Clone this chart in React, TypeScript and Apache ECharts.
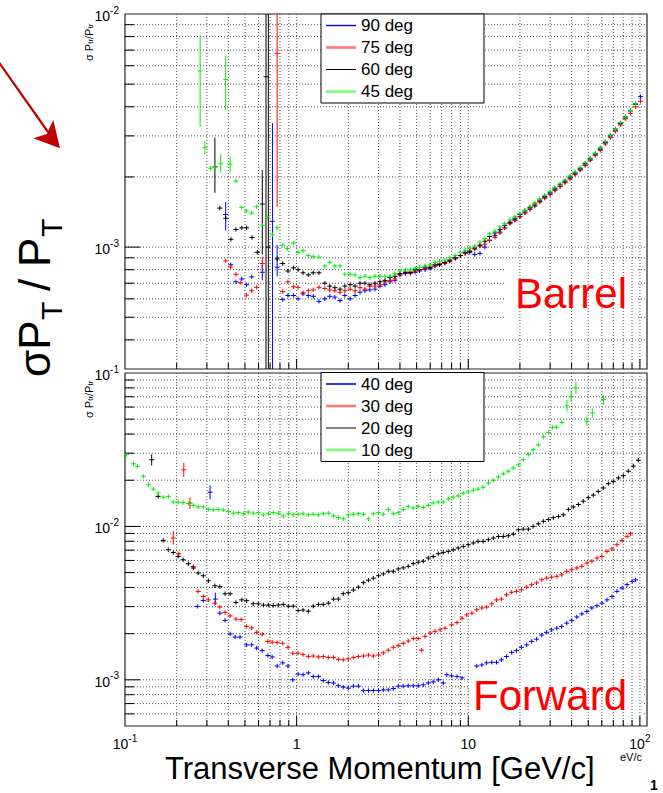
import React, { useEffect, useRef } from "react";
import * as echarts from "echarts";

const FONT = "'Liberation Sans', Arial, Helvetica, sans-serif";

// ---------- axis ranges & tick values ----------
const xRange = [0.1, 110];
const yTopRange = [3e-4, 1e-2];
const yBotRange = [5e-4, 1e-1];
const xMajorTicks = [1, 10, 100];
const xMinorTicks = [0.2, 0.3, 0.4, 0.5, 0.6, 0.7, 0.8, 0.9, 2, 3, 4, 5, 6, 7, 8, 9, 20, 30, 40, 50, 60, 70, 80, 90];
const yTopMajorTicks = [1e-3];
const yTopMinorTicks = [4e-4, 5e-4, 6e-4, 7e-4, 8e-4, 9e-4, 2e-3, 3e-3, 4e-3, 5e-3, 6e-3, 7e-3, 8e-3, 9e-3];
const yBotMajorTicks = [1e-3, 1e-2];
const yBotMinorTicks = [6e-4, 7e-4, 8e-4, 9e-4, 2e-3, 3e-3, 4e-3, 5e-3, 6e-3, 7e-3, 8e-3, 9e-3, 2e-2, 3e-2, 4e-2, 5e-2, 6e-2, 7e-2, 8e-2, 9e-2];

// ---------- series names / colours ----------
const barrelNames = ["90 deg", "75 deg", "60 deg", "45 deg"];
const forwardNames = ["40 deg", "30 deg", "20 deg", "10 deg"];
const seriesColors = ["#0000ff", "#ff0000", "#000000", "#00ee00"];
const legendColors = ["#0000ff", "#ff7878", "#000000", "#78ff78"];
const barrelLegendIcons = ["path://M0,0h30v1.4h-30z", "path://M0,0h30v2.6h-30z", "path://M0,0h30v1h-30z", "path://M0,0h30v2.6h-30z"];
const forwardLegendIcons = ["path://M0,0h30v1.6h-30z", "path://M0,0h30v2.6h-30z", "path://M0,0h30v1h-30z", "path://M0,0h30v2.6h-30z"];

// ---------- Barrel: low-pT points [pT, sigma, errLow?, errHigh?] ----------
const b90Low = [
  [0.386, 1.38e-3, 1.18e-3, 1.56e-3], [0.413, 8.4e-4], [0.443, 7.1e-4], [0.479, 7.3e-4], [0.511, 6.9e-4],
  [0.547, 7.45e-4], [0.631, 7.8e-4, 7.2e-4, 8.4e-4], [0.724, 1.29e-3, 1e-4, 3.4e-3], [0.77, 8.2e-4, 7.5e-4, 1.02e-3],
  [0.83, 5.95e-4], [0.89, 6.2e-4], [0.96, 6.2e-4], [1.02, 6.0e-4], [1.09, 6.3e-4], [1.17, 6.2e-4], [1.25, 6.15e-4],
  [1.35, 5.85e-4], [1.46, 6.0e-4], [1.56, 6.15e-4], [1.67, 6.1e-4], [1.79, 5.9e-4], [1.91, 6.2e-4], [2.05, 6.0e-4],
  [2.19, 6.2e-4], [2.34, 6.4e-4], [2.5, 6.5e-4], [2.67, 6.55e-4], [2.86, 6.6e-4], [3.06, 6.8e-4], [3.27, 6.9e-4],
  [3.5, 7.1e-4], [3.74, 7.2e-4],
];
const b75Low = [
  [0.386, 8.73e-4], [0.413, 8.22e-4], [0.443, 7.64e-4], [0.47, 7.03e-4], [0.51, 6.22e-4], [0.547, 6.5e-4],
  [0.585, 6.72e-4], [0.631, 8.51e-4, 8.0e-4, 9.1e-4], [0.77, 6.78e-3, 1.49e-3, 1.2e-2], [0.83, 6.45e-4],
  [0.89, 7.1e-4], [0.96, 6.76e-4], [1.02, 6.72e-4], [1.09, 6.37e-4], [1.17, 6.5e-4], [1.25, 6.55e-4],
  [1.35, 6.72e-4], [1.46, 6.65e-4], [1.56, 6.55e-4], [1.67, 6.5e-4], [1.79, 6.4e-4], [1.91, 6.5e-4],
  [2.05, 6.6e-4], [2.19, 6.5e-4], [2.34, 6.7e-4], [2.5, 6.6e-4], [2.67, 6.8e-4], [2.86, 6.8e-4], [3.06, 6.9e-4],
  [3.27, 7.1e-4], [3.5, 7.2e-4], [3.74, 7.3e-4],
];
const b60Low = [
  [0.334, 2.21e-3, 1.71e-3, 2.95e-3], [0.357, 1.47e-3], [0.386, 1.33e-3], [0.414, 1.08e-3], [0.443, 1.19e-3],
  [0.479, 1.21e-3], [0.511, 1.21e-3], [0.55, 1.1e-3], [0.59, 9.5e-4], [0.631, 1.53e-3, 9.3e-4, 2.14e-3],
  [0.663, 5.38e-3, 1e-4, 1], [0.684, 1.0e-3, 1e-4, 1], [0.77, 8.9e-4], [0.83, 8.5e-4], [0.89, 7.9e-4], [0.96, 8.15e-4],
  [1.02, 8.0e-4], [1.09, 7.76e-4], [1.17, 7.6e-4], [1.25, 7.76e-4], [1.35, 7.76e-4], [1.46, 7.0e-4],
  [1.56, 6.8e-4], [1.67, 6.7e-4], [1.79, 6.6e-4], [1.91, 6.8e-4], [2.05, 6.9e-4], [2.19, 6.8e-4], [2.34, 7.0e-4],
  [2.5, 7.0e-4], [2.67, 6.9e-4], [2.86, 7.0e-4], [3.06, 7.1e-4], [3.27, 7.2e-4], [3.5, 7.4e-4], [3.74, 7.5e-4],
];
const b45Low = [
  [0.274, 5.7e-3, 3.28e-3, 8.1e-3], [0.292, 2.67e-3, 2.5e-3, 2.85e-3], [0.315, 2.18e-3], [0.334, 2.21e-3],
  [0.361, 2.29e-3, 2.1e-3, 2.5e-3], [0.386, 5.24e-3, 3.87e-3, 6.6e-3], [0.41, 2.27e-3, 2.1e-3, 2.45e-3],
  [0.443, 1.92e-3], [0.479, 1.48e-3], [0.511, 1.43e-3], [0.547, 1.4e-3], [0.585, 1.49e-3], [0.631, 1.24e-3],
  [0.674, 1.35e-3], [0.724, 1.13e-3], [0.77, 1.21e-3], [0.83, 1.02e-3], [0.885, 9.86e-4], [0.96, 1.04e-3],
  [1.02, 9.48e-4], [1.09, 9.66e-4], [1.17, 9.2e-4], [1.25, 9.1e-4], [1.35, 9.06e-4], [1.46, 8.3e-4],
  [1.56, 8.6e-4], [1.67, 8.3e-4], [1.79, 8.3e-4], [1.91, 7.65e-4], [2.05, 7.65e-4], [2.19, 7.6e-4],
  [2.34, 7.4e-4], [2.5, 7.5e-4], [2.67, 7.4e-4], [2.86, 7.5e-4], [3.06, 7.5e-4], [3.27, 7.5e-4], [3.5, 7.5e-4],
  [3.74, 7.7e-4],
];

// ---------- Barrel: high-pT bins and values (units of 1e-3) ----------
const barrelHighP = [
  4.0, 4.3, 4.6, 4.9, 5.2, 5.6, 6.0, 6.4, 6.8, 7.3, 7.8, 8.4, 9.0, 9.6, 10.2, 10.9, 11.7, 12.5, 13.3, 14.3,
  15.3, 16.3, 17.5, 18.7, 20.0, 21.4, 22.9, 24.4, 26.1, 27.9, 30.0, 32.0, 34.3, 36.6, 39.2, 41.9, 44.9, 48.0,
  51.4, 55.0, 58.8, 62.9, 67.3, 72.0, 77.0, 82.3, 88.1, 94.3, 100.8,
];
const b90HighMilli = [
  0.76, 0.77, 0.78, 0.78, 0.79, 0.8, 0.81, 0.83, 0.84, 0.86, 0.88, 0.9, 0.92, 0.94, 0.95, 0.93, 0.94, 1.0, 1.07, 1.12,
  1.16, 1.21, 1.27, 1.31, 1.35, 1.41, 1.46, 1.5, 1.57, 1.63, 1.69, 1.76, 1.82, 1.9, 1.98, 2.06, 2.15, 2.25, 2.37, 2.49,
  2.62, 2.8, 2.97, 3.17, 3.38, 3.58, 3.84, 4.12, 4.42,
];
const b75HighMilli = [
  0.76, 0.78, 0.77, 0.79, 0.8, 0.81, 0.82, 0.83, 0.85, 0.85, 0.88, 0.89, 0.92, 0.94, 0.96, 0.98, 1.01, 1.03, 1.07, 1.1,
  1.15, 1.21, 1.26, 1.3, 1.35, 1.4, 1.45, 1.51, 1.56, 1.62, 1.68, 1.75, 1.82, 1.89, 1.96, 2.05, 2.14, 2.24, 2.36, 2.47,
  2.6, 2.77, 2.95, 3.14, 3.34, 3.55, 3.75, 4.0, 4.22,
];
const b60HighMilli = [
  0.77, 0.78, 0.78, 0.8, 0.8, 0.82, 0.82, 0.84, 0.84, 0.86, 0.87, 0.9, 0.92, 0.95, 0.96, 0.99, 1.02, 1.06, 1.11, 1.15,
  1.19, 1.24, 1.28, 1.33, 1.38, 1.43, 1.48, 1.53, 1.59, 1.65, 1.71, 1.78, 1.85, 1.92, 2.0, 2.08, 2.17, 2.28, 2.4, 2.52,
  2.66, 2.82, 3.02, 3.21, 3.4, 3.62, 3.85, 4.1,
];
const b45HighMilli = [
  0.79, 0.8, 0.8, 0.81, 0.82, 0.83, 0.84, 0.86, 0.87, 0.88, 0.9, 0.92, 0.95, 0.97, 0.99, 1.01, 1.05, 1.09, 1.14, 1.17,
  1.22, 1.26, 1.31, 1.35, 1.39, 1.44, 1.49, 1.55, 1.61, 1.67, 1.73, 1.8, 1.87, 1.94, 2.02, 2.1, 2.19, 2.3, 2.41, 2.53,
  2.67, 2.84, 3.02, 3.2, 3.42, 3.62, 3.86, 4.12,
];

// ---------- Forward series [pT, sigma, errLow?, errHigh?] ----------
const f40 = [
  [0.264, 3.01e-3], [0.286, 3.29e-3], [0.313, 1.67e-2, 1.5e-2, 1.85e-2], [0.336, 3.36e-3, 3.1e-3, 3.7e-3],
  [0.357, 2.72e-3], [0.383, 2.44e-3], [0.41, 1.99e-3], [0.438, 1.9e-3], [0.468, 1.9e-3], [0.511, 1.69e-3],
  [0.547, 1.69e-3], [0.585, 1.61e-3], [0.63, 1.55e-3], [0.68, 1.44e-3], [0.72, 1.41e-3], [0.77, 1.23e-3],
  [0.83, 1.29e-3], [0.89, 1.23e-3], [0.95, 1.0e-3], [1.02, 1.09e-3], [1.09, 1.08e-3], [1.17, 1.11e-3],
  [1.25, 1.05e-3], [1.34, 1.05e-3], [1.43, 9.9e-4], [1.53, 9.6e-4], [1.64, 9.53e-4], [1.75, 9.15e-4],
  [1.87, 8.96e-4], [2.0, 8.83e-4], [2.14, 9.1e-4], [2.29, 9.1e-4], [2.45, 8.51e-4], [2.62, 8.51e-4],
  [2.8, 8.51e-4], [3.0, 8.51e-4], [3.2, 8.6e-4], [3.42, 8.6e-4], [3.66, 8.77e-4], [3.91, 9.1e-4], [4.18, 9.1e-4],
  [4.47, 9.15e-4], [4.78, 9.15e-4], [5.11, 9.15e-4], [5.47, 9.28e-4], [5.85, 9.53e-4], [6.25, 9.7e-4],
  [6.69, 1.0e-3], [7.15, 9.53e-4], [7.5, 1.08e-3], [8.0, 1.06e-3], [8.6, 1.05e-3], [9.2, 1.03e-3],
  [11.2, 1.23e-3], [12.0, 1.25e-3], [12.8, 1.29e-3], [13.7, 1.3e-3], [14.6, 1.3e-3], [15.6, 1.35e-3],
  [16.7, 1.42e-3], [17.9, 1.51e-3], [19.1, 1.55e-3], [20.4, 1.63e-3], [21.9, 1.69e-3], [23.4, 1.78e-3],
  [25.0, 1.84e-3], [26.8, 1.96e-3], [28.6, 2.04e-3], [30.6, 2.12e-3], [32.8, 2.17e-3], [35.0, 2.23e-3],
  [37.5, 2.34e-3], [40.1, 2.44e-3], [42.9, 2.57e-3], [45.9, 2.69e-3], [49.1, 2.79e-3], [52.5, 2.94e-3],
  [56.2, 3.04e-3], [60.1, 3.16e-3], [64.3, 3.32e-3], [68.8, 3.49e-3], [73.5, 3.77e-3], [78.7, 3.96e-3],
  [84.2, 4.17e-3], [90.1, 4.38e-3], [94.3, 4.49e-3],
];
const f30 = [
  [0.191, 8.4e-3, 7.6e-3, 9.3e-3], [0.206, 6.64e-3], [0.22, 2.34e-2, 2.1e-2, 2.6e-2], [0.239, 1.42e-2, 1.3e-2, 1.55e-2],
  [0.25, 5.48e-3], [0.267, 3.77e-3], [0.286, 3.49e-3], [0.306, 3.32e-3], [0.334, 3.16e-3], [0.357, 2.98e-3],
  [0.383, 2.75e-3], [0.41, 2.61e-3], [0.443, 2.49e-3], [0.475, 2.47e-3], [0.511, 2.23e-3], [0.547, 2.18e-3],
  [0.585, 2.04e-3], [0.63, 1.98e-3], [0.68, 1.78e-3], [0.72, 1.76e-3], [0.77, 1.75e-3], [0.83, 1.73e-3],
  [0.89, 1.63e-3], [0.95, 1.49e-3], [1.02, 1.49e-3], [1.09, 1.46e-3], [1.17, 1.42e-3], [1.25, 1.43e-3],
  [1.34, 1.41e-3], [1.43, 1.42e-3], [1.53, 1.4e-3], [1.64, 1.4e-3], [1.75, 1.36e-3], [1.87, 1.35e-3],
  [2.0, 1.37e-3], [2.14, 1.4e-3], [2.29, 1.42e-3], [2.45, 1.43e-3], [2.62, 1.45e-3], [2.8, 1.43e-3],
  [3.0, 1.45e-3], [3.2, 1.5e-3], [3.42, 1.56e-3], [3.66, 1.63e-3], [3.91, 1.67e-3], [4.18, 1.73e-3],
  [4.47, 1.79e-3], [4.78, 1.86e-3], [5.11, 1.86e-3], [5.35, 1.56e-3], [5.6, 1.92e-3], [6.0, 2.02e-3],
  [6.4, 2.07e-3], [6.85, 2.12e-3], [7.32, 2.17e-3], [8.0, 2.28e-3], [8.6, 2.36e-3], [9.2, 2.52e-3],
  [9.8, 2.65e-3], [10.5, 2.72e-3], [11.2, 2.86e-3], [12.0, 2.94e-3], [12.8, 2.98e-3], [13.7, 3.13e-3],
  [14.6, 3.32e-3], [15.6, 3.36e-3], [16.7, 3.58e-3], [17.9, 3.72e-3], [19.1, 3.77e-3], [20.4, 3.86e-3],
  [21.9, 4.02e-3], [23.4, 4.17e-3], [25.0, 4.28e-3], [26.8, 4.49e-3], [28.6, 4.6e-3], [30.6, 4.67e-3],
  [32.8, 4.73e-3], [35.0, 4.84e-3], [37.5, 5.09e-3], [40.1, 5.22e-3], [42.9, 5.36e-3], [45.9, 5.49e-3],
  [49.1, 5.77e-3], [52.5, 5.93e-3], [56.2, 6.22e-3], [60.1, 6.37e-3], [64.3, 6.87e-3], [68.8, 7.13e-3],
  [73.5, 7.6e-3], [78.7, 8.11e-3], [84.2, 8.61e-3], [88.1, 8.96e-3],
];
const f20 = [
  [0.143, 2.72e-2, 2.5e-2, 2.95e-2], [0.156, 1.57e-2], [0.167, 8.1e-3], [0.179, 7.05e-3], [0.191, 6.76e-3],
  [0.204, 6.37e-3], [0.218, 6.06e-3], [0.234, 5.71e-3], [0.25, 5.36e-3], [0.267, 4.97e-3], [0.286, 4.77e-3],
  [0.306, 4.42e-3], [0.334, 4.1e-3], [0.357, 4.05e-3], [0.383, 3.64e-3], [0.41, 3.64e-3], [0.443, 3.19e-3],
  [0.479, 3.32e-3], [0.511, 3.28e-3], [0.559, 3.13e-3], [0.598, 3.13e-3], [0.64, 3.07e-3], [0.684, 3.07e-3],
  [0.731, 3.05e-3], [0.782, 3.07e-3], [0.836, 3.1e-3], [0.894, 3.02e-3], [0.956, 3.02e-3], [1.02, 2.83e-3],
  [1.09, 2.85e-3], [1.17, 2.8e-3], [1.25, 3.02e-3], [1.34, 3.1e-3], [1.43, 3.1e-3], [1.53, 3.16e-3],
  [1.64, 3.36e-3], [1.75, 3.36e-3], [1.87, 3.64e-3], [2.0, 3.7e-3], [2.14, 3.85e-3], [2.29, 4.02e-3],
  [2.45, 4.3e-3], [2.62, 4.46e-3], [2.8, 4.6e-3], [3.0, 4.77e-3], [3.2, 4.9e-3], [3.42, 5.1e-3], [3.66, 5.1e-3],
  [3.91, 5.28e-3], [4.18, 5.37e-3], [4.47, 5.49e-3], [4.78, 5.72e-3], [5.11, 5.84e-3], [5.47, 5.93e-3],
  [5.85, 6.22e-3], [6.25, 6.37e-3], [6.69, 6.64e-3], [7.15, 6.77e-3], [7.65, 6.87e-3], [8.18, 7.05e-3],
  [8.74, 7.23e-3], [9.35, 7.41e-3], [10.0, 7.6e-3], [10.7, 7.8e-3], [11.4, 7.99e-3], [12.2, 7.99e-3],
  [13.1, 8.2e-3], [14.0, 8.4e-3], [15.0, 8.6e-3], [16.0, 8.6e-3], [17.1, 8.7e-3], [18.3, 8.9e-3], [19.6, 9.5e-3],
  [20.9, 9.6e-3], [22.4, 9.6e-3], [23.9, 1.0e-2], [25.6, 1.04e-2], [27.4, 1.08e-2], [29.3, 1.11e-2],
  [31.3, 1.14e-2], [33.5, 1.16e-2], [35.8, 1.19e-2], [38.3, 1.29e-2], [40.9, 1.34e-2], [43.8, 1.39e-2],
  [46.8, 1.46e-2], [50.1, 1.54e-2], [53.5, 1.6e-2], [57.2, 1.69e-2], [61.2, 1.78e-2], [65.5, 1.9e-2],
  [70.0, 1.96e-2], [74.9, 2.07e-2], [80.1, 2.14e-2], [85.6, 2.29e-2], [91.6, 2.47e-2], [97.9, 2.7e-2],
];
const f10 = [
  [0.102, 2.94e-2], [0.112, 2.56e-2], [0.118, 2.46e-2], [0.128, 2.12e-2], [0.137, 1.87e-2], [0.146, 1.75e-2],
  [0.156, 1.65e-2], [0.167, 1.55e-2], [0.179, 1.57e-2], [0.191, 1.44e-2], [0.204, 1.44e-2], [0.218, 1.43e-2],
  [0.234, 1.41e-2], [0.25, 1.37e-2], [0.267, 1.34e-2], [0.286, 1.34e-2], [0.306, 1.29e-2], [0.327, 1.28e-2],
  [0.349, 1.29e-2], [0.374, 1.28e-2], [0.4, 1.25e-2], [0.428, 1.22e-2], [0.457, 1.23e-2], [0.489, 1.21e-2],
  [0.523, 1.24e-2], [0.559, 1.22e-2], [0.598, 1.23e-2], [0.64, 1.19e-2], [0.684, 1.21e-2], [0.731, 1.23e-2],
  [0.782, 1.22e-2], [0.836, 1.17e-2], [0.894, 1.21e-2], [0.956, 1.19e-2], [1.02, 1.2e-2], [1.09, 1.21e-2],
  [1.17, 1.19e-2], [1.25, 1.2e-2], [1.34, 1.19e-2], [1.43, 1.21e-2], [1.53, 1.22e-2], [1.64, 1.17e-2],
  [1.75, 1.14e-2], [1.87, 1.12e-2], [2.0, 1.19e-2], [2.14, 1.2e-2], [2.29, 1.21e-2], [2.45, 1.2e-2],
  [2.62, 1.12e-2], [2.8, 1.21e-2], [3.0, 1.23e-2], [3.2, 1.2e-2], [3.42, 1.29e-2], [3.66, 1.21e-2],
  [3.91, 1.23e-2], [4.18, 1.29e-2], [4.47, 1.35e-2], [4.78, 1.32e-2], [5.11, 1.35e-2], [5.47, 1.33e-2],
  [5.85, 1.37e-2], [6.25, 1.42e-2], [6.69, 1.44e-2], [7.15, 1.44e-2], [7.65, 1.51e-2], [8.18, 1.55e-2],
  [8.74, 1.58e-2], [9.35, 1.65e-2], [10.0, 1.68e-2], [10.7, 1.72e-2], [11.4, 1.75e-2], [12.2, 1.8e-2],
  [13.1, 1.92e-2], [14.0, 2.0e-2], [15.0, 2.1e-2], [16.0, 2.2e-2], [17.1, 2.29e-2], [18.3, 2.4e-2],
  [19.6, 2.52e-2], [20.9, 2.72e-2], [22.4, 2.94e-2], [23.9, 3.16e-2], [25.6, 3.4e-2], [27.4, 3.83e-2],
  [29.3, 4.1e-2], [30.9, 4.42e-2], [32.6, 4.44e-2], [35.1, 4.76e-2], [37.6, 6.12e-2, 5.6e-2, 6.7e-2],
  [39.8, 7.05e-2, 6.5e-2, 7.7e-2], [42.4, 8.0e-2, 7.3e-2, 8.8e-2], [49.1, 4.84e-2, 4.5e-2, 5.2e-2],
  [52.8, 5.5e-2, 5.1e-2, 5.9e-2], [61.4, 6.7e-2, 6.2e-2, 7.2e-2],
];

// ---------- helpers that build the library's option from the arrays ----------
const toRows = (arr: number[][]) => arr.map((r) => [r[0], r[1], r[2] ?? 0, r[3] ?? 0]);
const highRows = (vals: number[]) => vals.map((v, i) => [barrelHighP[i], v * 1e-3, 0, 0]);

const barrelData = [
  [...toRows(b90Low), ...highRows(b90HighMilli)],
  [...toRows(b75Low), ...highRows(b75HighMilli)],
  [...toRows(b60Low), ...highRows(b60HighMilli)],
  [...toRows(b45Low), ...highRows(b45HighMilli)],
];
const forwardData = [toRows(f40), toRows(f30), toRows(f20), toRows(f10)];

const GRID_COLOR = "#555";

function crossRender(params: any, api: any) {
  const x = api.value(0);
  const y = api.value(1);
  const lo = api.value(2);
  const hi = api.value(3);
  const c = api.coord([x, y]);
  const color = api.visual("color");
  const hw = 2.5;
  let top = c[1] - 2.2;
  let bot = c[1] + 2.2;
  if (hi > 0) top = Math.min(top, api.coord([x, hi])[1]);
  if (lo > 0) bot = Math.max(bot, api.coord([x, lo])[1]);
  return {
    type: "group",
    children: [
      { type: "line", shape: { x1: c[0] - hw, y1: c[1], x2: c[0] + hw, y2: c[1] }, style: { stroke: color, lineWidth: 1 } },
      { type: "line", shape: { x1: c[0], y1: top, x2: c[0], y2: bot }, style: { stroke: color, lineWidth: 1 } },
    ],
  };
}

function vGridRender(params: any, api: any) {
  const cs = params.coordSys;
  const px = api.coord([api.value(0), api.value(1)])[0];
  const major = api.value(2) === 1;
  const yb = cs.y + cs.height;
  return {
    type: "group",
    children: [
      { type: "line", shape: { x1: px, y1: cs.y, x2: px, y2: yb }, style: { stroke: GRID_COLOR, lineWidth: 1, lineDash: [1, 2] } },
      { type: "line", shape: { x1: px, y1: yb, x2: px, y2: yb - (major ? 10 : 6) }, style: { stroke: "#000", lineWidth: 1 } },
    ],
  };
}

function hGridRender(params: any, api: any) {
  const cs = params.coordSys;
  const py = api.coord([api.value(0), api.value(1)])[1];
  const major = api.value(2) === 1;
  return {
    type: "group",
    children: [
      { type: "line", shape: { x1: cs.x, y1: py, x2: cs.x + cs.width, y2: py }, style: { stroke: GRID_COLOR, lineWidth: 1, lineDash: [1, 2] } },
      { type: "line", shape: { x1: cs.x, y1: py, x2: cs.x + (major ? 15 : 9), y2: py }, style: { stroke: "#000", lineWidth: 1 } },
    ],
  };
}

const powLabel = (v: number) => {
  const e = Math.log10(v);
  const r = Math.round(e);
  if (Math.abs(e - r) > 1e-6) return "";
  if (r === 0) return "{b|1}";
  if (r === 1) return "{b|10}";
  return `{b|10}{s|${r}}`;
};
const labelRich = {
  b: { fontSize: 14, fontFamily: FONT, color: "#000", lineHeight: 18, verticalAlign: "bottom" },
  s: { fontSize: 10, fontFamily: FONT, color: "#000", lineHeight: 6, verticalAlign: "top" },
};

function gridSeries(idx: number, yMin: number, yMajor: number[], yMinor: number[]) {
  const vData = [...xMajorTicks.map((t) => [t, yMin, 1]), ...xMinorTicks.map((t) => [t, yMin, 0])];
  const hData = [...yMajor.map((t) => [xRange[0], t, 1]), ...yMinor.map((t) => [xRange[0], t, 0])];
  return [
    {
      type: "custom", xAxisIndex: idx, yAxisIndex: idx, silent: true, clip: false, z: 1,
      dimensions: ["a", "b", "m"], encode: { x: 0, y: 1 }, data: hData, renderItem: hGridRender,
    },
    {
      type: "custom", xAxisIndex: idx, yAxisIndex: idx, silent: true, clip: false, z: 3,
      dimensions: ["a", "b", "m"], encode: { x: 0, y: 1 }, data: vData, renderItem: vGridRender,
    },
  ];
}

function dataSeries(names: string[], datasets: number[][][], idx: number) {
  return names.map((name, i) => ({
    type: "custom",
    name,
    xAxisIndex: idx,
    yAxisIndex: idx,
    clip: true,
    silent: true,
    z: 4,
    itemStyle: { color: seriesColors[i] },
    dimensions: ["p", "v", "lo", "hi"],
    encode: { x: 0, y: 1 },
    data: datasets[i],
    renderItem: crossRender,
  }));
}

function legendFor(names: string[], icons: string[], top: number) {
  return {
    data: names.map((n, i) => ({ name: n, icon: icons[i], itemStyle: { color: legendColors[i] } })),
    orient: "vertical",
    left: 321,
    top,
    itemWidth: 30,
    itemHeight: 17,
    itemGap: 5,
    symbolKeepAspect: true,
    padding: [3, 71, 3, 5],
    backgroundColor: "#fff",
    borderColor: "#000",
    borderWidth: 1,
    borderRadius: 0,
    selectedMode: false,
    z: 6,
    textStyle: { fontSize: 17, fontFamily: FONT, color: "#000" },
  };
}

function buildOption() {
  const yTitle = (y: number) => ({
    type: "text",
    x: 94,
    y,
    rotation: Math.PI / 2,
    z: 10,
    style: {
      text: "{n|σ P}{s|tr}{n|/P}{s|tr}",
      align: "left",
      verticalAlign: "bottom",
      rich: {
        n: { fontSize: 11, fontFamily: FONT, fill: "#000", lineHeight: 14, verticalAlign: "bottom" },
        s: { fontSize: 8, fontFamily: FONT, fill: "#000", lineHeight: 8, verticalAlign: "bottom" },
      },
    },
  });
  const bigFont = `44px ${FONT}`;
  const subFont = `30px ${FONT}`;
  return {
    animation: false,
    backgroundColor: "#fff",
    grid: [
      { left: 125, top: 14, width: 522, height: 355, show: true, borderColor: "#222", borderWidth: 1.2, backgroundColor: "transparent" },
      { left: 125, top: 373, width: 522, height: 353, show: true, borderColor: "#222", borderWidth: 1.2, backgroundColor: "transparent" },
    ],
    xAxis: [0, 1].map((i) => ({
      gridIndex: i,
      type: "log",
      logBase: 10,
      min: xRange[0],
      max: xRange[1],
      axisLine: { show: false },
      axisTick: { show: false },
      splitLine: { show: false },
      axisLabel: i === 0 ? { show: false } : { formatter: powLabel, rich: labelRich, margin: 7 },
    })),
    yAxis: [
      { range: yTopRange, idx: 0 },
      { range: yBotRange, idx: 1 },
    ].map((a) => ({
      gridIndex: a.idx,
      type: "log",
      logBase: 10,
      min: a.range[0],
      max: a.range[1],
      axisLine: { show: false },
      axisTick: { show: false },
      splitLine: { show: false },
      axisLabel: { formatter: powLabel, rich: labelRich, margin: 6 },
    })),
    legend: [legendFor(barrelNames, barrelLegendIcons, 14), legendFor(forwardNames, forwardLegendIcons, 372.5)],
    series: [
      ...gridSeries(0, yTopRange[0], yTopMajorTicks, yTopMinorTicks),
      ...gridSeries(1, yBotRange[0], yBotMajorTicks, yBotMinorTicks),
      ...dataSeries(barrelNames, barrelData, 0),
      ...dataSeries(forwardNames, forwardData, 1),
    ],
    graphic: [
      // white boxes behind the panel labels (cover horizontal grid lines only)
      { type: "rect", z: 2, silent: true, shape: { x: 505, y: 262, width: 133, height: 63 }, style: { fill: "#fff" } },
      { type: "rect", z: 2, silent: true, shape: { x: 469, y: 668, width: 174, height: 52 }, style: { fill: "#fff" } },
      { type: "text", z: 10, x: 515, y: 293, style: { text: "Barrel", font: `42px ${FONT}`, fill: "#ff0000", align: "left", verticalAlign: "middle" } },
      { type: "text", z: 10, x: 473, y: 695.5, style: { text: "Forward", font: `42px ${FONT}`, fill: "#ff0000", align: "left", verticalAlign: "middle" } },
      yTitle(61),
      yTitle(418),
      {
        type: "group",
        x: 50,
        y: 377,
        rotation: Math.PI / 2,
        z: 10,
        children: [
          { type: "text", x: 0, y: -15.2, style: { text: "σP", font: bigFont, fill: "#000", align: "left", verticalAlign: "middle" } },
          { type: "text", x: 57, y: 1.6, style: { text: "T", font: subFont, fill: "#000", align: "left", verticalAlign: "middle" } },
          { type: "text", x: 86, y: -15.2, style: { text: "/", font: bigFont, fill: "#000", align: "left", verticalAlign: "middle" } },
          { type: "text", x: 110, y: -15.2, style: { text: "P", font: bigFont, fill: "#000", align: "left", verticalAlign: "middle" } },
          { type: "text", x: 140, y: 1.6, style: { text: "T", font: subFont, fill: "#000", align: "left", verticalAlign: "middle" } },
        ],
      },
      { type: "text", z: 10, x: 165, y: 768.5, style: { text: "Transverse Momentum [GeV/c]", font: `31px ${FONT}`, fill: "#000", align: "left", verticalAlign: "middle" } },
      { type: "text", z: 10, x: 620, y: 757, style: { text: "eV/c", font: `11px ${FONT}`, fill: "#000", align: "left", verticalAlign: "middle" } },
      { type: "text", z: 10, x: 654, y: 785, style: { text: "1", font: `bold 14px ${FONT}`, fill: "#000", align: "center", verticalAlign: "middle" } },
      // red arrow
      { type: "line", z: 10, silent: true, shape: { x1: -2, y1: 61, x2: 48, y2: 132 }, style: { stroke: "#c00000", lineWidth: 2.2 } },
      { type: "polygon", z: 10, silent: true, shape: { points: [[60, 148.3], [33.3, 138.3], [46.7, 134], [53.3, 120]] }, style: { fill: "#c00000" } },
    ],
  };
}

export default function App() {
  const ref = useRef<HTMLDivElement>(null);
  useEffect(() => {
    if (!ref.current) return;
    const chart = echarts.init(ref.current, null, { renderer: "svg" });
    chart.setOption(buildOption() as any);
    return () => {
      chart.dispose();
    };
  }, []);
  return (
    <div
      ref={ref}
      style={{ position: "absolute", left: 0, top: 0, width: 663, height: 793, background: "#fff" }}
    />
  );
}
